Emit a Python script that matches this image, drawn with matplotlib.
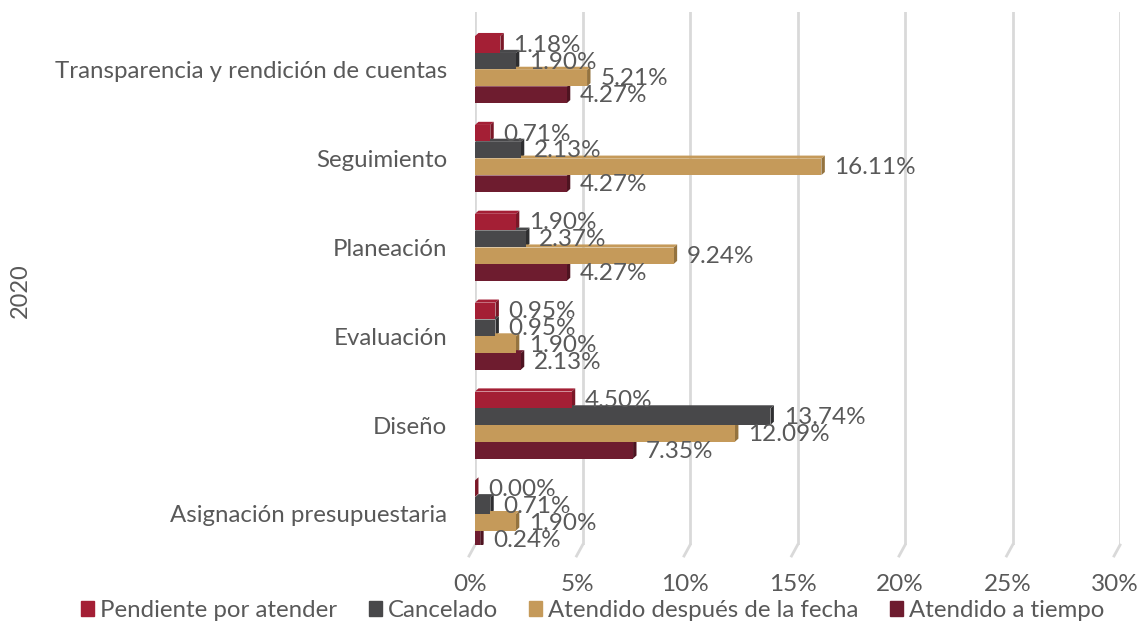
#Barras horizontales agrupadas con efecto 3D
from matplotlib import pyplot as plt
from matplotlib.patches import Polygon
from matplotlib import transforms
import numpy as np

plt.rcParams['font.family'] = ['Lato', 'DejaVu Sans']

#datos
categorias = ['Asignación presupuestaria', 'Diseño', 'Evaluación',
              'Planeación', 'Seguimiento', 'Transparencia y rendición de cuentas']
series = ['Pendiente por atender', 'Cancelado',
          'Atendido después de la fecha', 'Atendido a tiempo']
pendiente = [0.00, 4.50, 0.95, 1.90, 0.71, 1.18]
cancelado = [0.71, 13.74, 0.95, 2.37, 2.13, 1.90]
despues = [1.90, 12.09, 1.90, 9.24, 16.11, 5.21]
a_tiempo = [0.24, 7.35, 2.13, 4.27, 4.27, 4.27]
ticks = [0, 5, 10, 15, 20, 25, 30]

valores = [pendiente, cancelado, despues, a_tiempo]
colores = ['#A41F35', '#48484A', '#C59A5A', '#6E1C2F']
sombras = ['#7A1727', '#2E2E30', '#94733F', '#4E1421']
gris = '#595959'

fig = plt.figure(figsize=(11.4, 6.24), dpi=100)
ax = fig.add_axes([0.4167, 0.1266, 0.5658, 0.8544])

y = np.arange(len(categorias))
paso = 0.19
alto = 0.185
dx = 0.16   # profundidad en %
dy = 0.035  # profundidad en unidades de categoria
desplaz = [1.5 * paso, 0.5 * paso, -0.5 * paso, -1.5 * paso]

for v, c, s, d in zip(valores, colores, sombras, desplaz):
    for yi, val in zip(y, v):
        yc = yi + d
        y0, y1 = yc - alto / 2, yc + alto / 2
        # cara superior y lateral
        ax.add_patch(Polygon([(0, y1), (val, y1), (val + dx, y1 + dy), (dx, y1 + dy)],
                             closed=True, facecolor=c, edgecolor='none', zorder=3))
        ax.add_patch(Polygon([(val, y0), (val + dx, y0 + dy), (val + dx, y1 + dy), (val, y1)],
                             closed=True, facecolor=s, edgecolor='none', zorder=3))
        ax.barh(yc, val, height=alto, color=c, zorder=4)
        ax.text(val + dx + 0.45, yc - 0.01, f'{val:.2f}%', va='center', ha='left',
                fontsize=17.5, color=gris, zorder=5)

ax.set_xlim(0, 30)
ax.set_ylim(-0.35, 5.65)
ax.set_xticks(ticks)
ax.set_xticklabels([f'{t}%' for t in ticks], fontsize=17.5, color=gris)
ax.set_yticks(y)
ax.set_yticklabels(categorias, fontsize=17.3, color=gris)
ax.tick_params(axis='both', length=0)
ax.tick_params(axis='x', pad=21)
ax.tick_params(axis='y', pad=20)
# etiquetas del eje x un poco a la izquierda (piso 3D)
corr = transforms.ScaledTranslation(-5 / 100, 0, fig.dpi_scale_trans)
for lab in ax.get_xticklabels():
    lab.set_transform(lab.get_transform() + corr)
for t in ticks:
    ax.axvline(t, color='#D9D9D9', lw=2, zorder=1)
    # piso 3D
    ax.plot([t, t - 0.28], [-0.35, -0.474], color='#D9D9D9', lw=2,
            clip_on=False, zorder=1)
for sp in ax.spines.values():
    sp.set_visible(False)

fig.text(0.018, 0.535, '2020', rotation=90, va='center', ha='center',
         fontsize=17, color=gris)

handles = [plt.Rectangle((0, 0), 1, 1, color=c) for c in colores]
fig.legend(handles, series, loc='lower center', ncol=4, frameon=False,
           fontsize=17.3, labelcolor=gris, handlelength=0.55, handleheight=0.55,
           handletextpad=0.25, columnspacing=1.3, bbox_to_anchor=(0.52, -0.03))

plt.savefig('out.png', dpi=100)
